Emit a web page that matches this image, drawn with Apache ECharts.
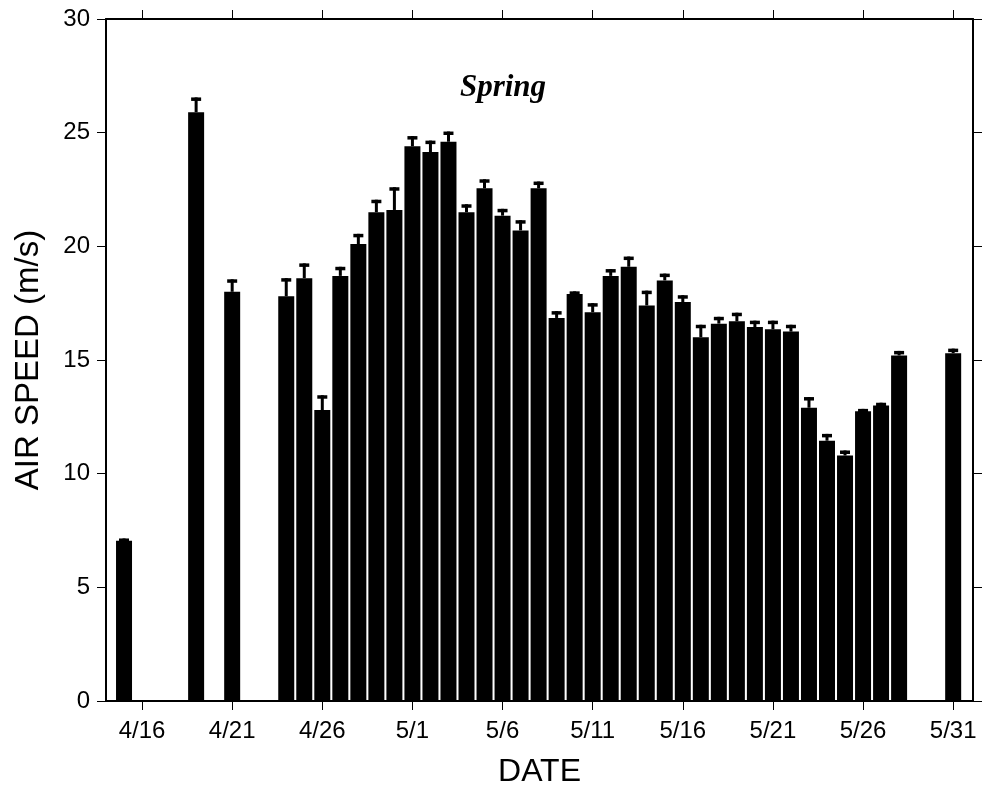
<!DOCTYPE html>
<html>
<head>
<meta charset="utf-8">
<script src="https://cdn.jsdelivr.net/npm/echarts@6/dist/echarts.min.js"></script>
<style>
html,body{margin:0;padding:0;background:#fff;}
#chart{width:984px;height:793px;}
</style>
</head>
<body>
<div id="chart"></div>
<script>
// ---- data ----
const dates  = ['4/15','4/19','4/21','4/24','4/25','4/26','4/27','4/28','4/29','4/30',
                '5/1','5/2','5/3','5/4','5/5','5/6','5/7','5/8','5/9','5/10',
                '5/11','5/12','5/13','5/14','5/15','5/16','5/17','5/18','5/19','5/20',
                '5/21','5/22','5/23','5/24','5/25','5/26','5/27','5/28','5/31'];
const speeds = [7.05,25.9,18.0,17.8,18.6,12.8,18.7,20.1,21.5,21.6,
                24.4,24.15,24.6,21.5,22.55,21.35,20.7,22.55,16.85,17.9,
                17.1,18.7,19.1,17.4,18.5,17.55,16.0,16.6,16.7,16.45,
                16.35,16.25,12.9,11.45,10.8,12.75,13.0,15.2,15.3];
const errors = [0.1,0.65,0.55,0.8,0.65,0.65,0.4,0.45,0.55,1.0,
                0.45,0.5,0.45,0.35,0.4,0.3,0.45,0.3,0.3,0.12,
                0.4,0.3,0.45,0.65,0.3,0.3,0.55,0.3,0.38,0.28,
                0.38,0.3,0.47,0.3,0.22,0.1,0.12,0.2,0.2];
const tickLabels = ['4/16','4/21','4/26','5/1','5/6','5/11','5/16','5/21','5/26','5/31'];

// day index relative to 4/14
function dayIndex(s){
  const [m,d] = s.split('/').map(Number);
  return m === 4 ? d - 14 : 16 + d;
}
const tickPos = tickLabels.map(dayIndex);
const labelOf = {};
tickLabels.forEach(t => { labelOf[dayIndex(t)] = t; });

const barData = dates.map((d,i) => [dayIndex(d), speeds[i]]);
const errData = dates.map((d,i) => [dayIndex(d), speeds[i], errors[i]]);

const font = 'Liberation Sans, Arial, sans-serif';
const chart = echarts.init(document.getElementById('chart'), null, {renderer:'canvas'});
const axisLine = {show:true, onZero:false, lineStyle:{color:'#000', width:2}};
const tick = {show:true, inside:false, length:9, lineStyle:{color:'#000', width:1}};

chart.setOption({
  animation:false,
  backgroundColor:'#fff',
  grid:{left:106, right:11, top:19, bottom:90, containLabel:false},
  graphic:[{type:'text', x:503, y:88, style:{text:'Spring', fill:'#000',
    font:'italic bold 31px "Liberation Serif", "Times New Roman", serif',
    align:'center', verticalAlign:'middle'}}],
  xAxis:[
    {type:'value', min:0, max:48.1, position:'bottom',
     name:'DATE', nameLocation:'middle', nameGap:55,
     nameTextStyle:{fontFamily:font, fontSize:32, color:'#000'},
     axisLine:axisLine,
     axisTick:Object.assign({}, tick, {customValues:tickPos}),
     axisLabel:{customValues:tickPos, formatter:v => labelOf[v] || '',
       fontFamily:font, fontSize:24, color:'#000', margin:18},
     splitLine:{show:false}},
    {type:'value', min:0, max:48.1, position:'top',
     axisLine:axisLine,
     axisTick:Object.assign({}, tick, {customValues:tickPos}),
     axisLabel:{show:false}, splitLine:{show:false}}
  ],
  yAxis:[
    {type:'value', min:0, max:30, interval:5, position:'left',
     name:'AIR SPEED (m/s)', nameLocation:'middle', nameGap:61,
     nameTextStyle:{fontFamily:font, fontSize:33, color:'#000'},
     axisLine:axisLine, axisTick:tick,
     axisLabel:{fontFamily:font, fontSize:24, color:'#000', margin:16},
     splitLine:{show:false}},
    {type:'value', min:0, max:30, interval:5, position:'right',
     axisLine:axisLine, axisTick:tick,
     axisLabel:{show:false}, splitLine:{show:false}}
  ],
  series:[
    {type:'bar', xAxisIndex:0, yAxisIndex:0, data:barData, barWidth:16,
     itemStyle:{color:'#000'}, z:2},
    {type:'custom', xAxisIndex:0, yAxisIndex:0, data:errData, z:3,
     renderItem:function(params, api){
       const x = api.value(0), v = api.value(1), e = api.value(2);
       const p0 = api.coord([x, v]);
       const p1 = api.coord([x, v + e]);
       return {type:'group', children:[
         {type:'rect', shape:{x:p0[0]-1.5, y:p1[1], width:3, height:Math.max(p0[1]-p1[1],0)},
          style:{fill:'#000'}},
         {type:'rect', shape:{x:p0[0]-5, y:p1[1], width:10, height:3.5},
          style:{fill:'#000'}}
       ]};
     }}
  ]
});
</script>
</body>
</html>
